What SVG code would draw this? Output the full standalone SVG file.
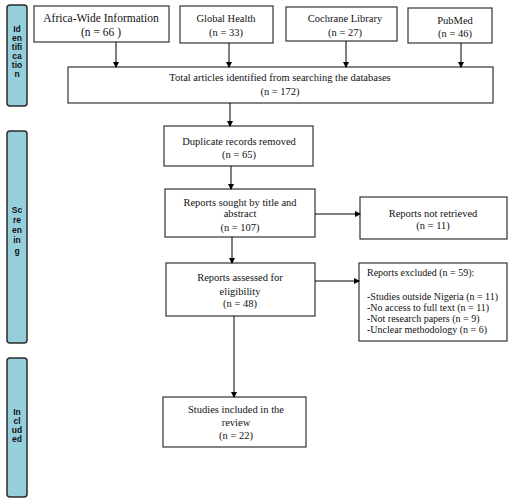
<svg xmlns="http://www.w3.org/2000/svg" width="521" height="504" viewBox="0 0 521 504">
<defs>
<marker id="ah" markerWidth="6" markerHeight="6" refX="5" refY="3" orient="auto" markerUnits="userSpaceOnUse">
<path d="M0,0 L6,3 L0,6 Z" fill="#000"/>
</marker>
<style>
.bar{fill:#96cfdc;stroke:#2b2b2b;stroke-width:1.5}
.box{fill:#fff;stroke:#333;stroke-width:1.2}
.t{font-family:"Liberation Serif","Times New Roman",serif;font-size:10.5px;fill:#111;text-anchor:middle}
.tl{font-family:"Liberation Serif","Times New Roman",serif;font-size:10px;fill:#111}
.bl{font-family:"Liberation Sans",Arial,sans-serif;font-size:8.5px;font-weight:bold;fill:#111;text-anchor:middle}
.c{stroke:#000;stroke-width:1;fill:none;marker-end:url(#ah)}
</style>
</defs>
<rect width="521" height="504" fill="#fff"/>
<g id="phase-identification">
<rect class="bar" x="7" y="5" width="20" height="101" rx="3"/>
<text class="bl" x="17" y="32">Id</text><text class="bl" x="17" y="41">en</text><text class="bl" x="17" y="50">tifi</text><text class="bl" x="17" y="59">ca</text><text class="bl" x="17" y="68">tio</text><text class="bl" x="17" y="77">n</text>
</g>
<g id="phase-screening">
<rect class="bar" x="7" y="131" width="20" height="212" rx="3"/>
<text class="bl" x="17" y="213">Sc</text><text class="bl" x="17" y="223">re</text><text class="bl" x="17" y="233">en</text><text class="bl" x="17" y="243">in</text><text class="bl" x="17" y="254">g</text>
</g>
<g id="phase-included">
<rect class="bar" x="7" y="358" width="20" height="139" rx="3"/>
<text class="bl" x="17" y="415">In</text><text class="bl" x="17" y="424">cl</text><text class="bl" x="17" y="433">ud</text><text class="bl" x="17" y="442">ed</text>
</g>
<g id="africa-wide">
<rect class="box" x="34" y="6" width="135" height="36"/>
<text class="t" x="101" y="22" style="font-size:11.5px">Africa-Wide Information</text>
<text class="t" x="101" y="36" style="font-size:11.5px">(n = 66 )</text>
</g>
<g id="global-health">
<rect class="box" x="180" y="6" width="93" height="37"/>
<text class="t" x="226" y="22">Global Health</text>
<text class="t" x="226" y="36">(n = 33)</text>
</g>
<g id="cochrane">
<rect class="box" x="286" y="7" width="111" height="34"/>
<text class="t" x="345" y="22">Cochrane Library</text>
<text class="t" x="345" y="36">(n = 27)</text>
</g>
<g id="pubmed">
<rect class="box" x="408" y="8" width="84" height="35"/>
<text class="t" x="455" y="24">PubMed</text>
<text class="t" x="455" y="37">(n = 46)</text>
</g>
<g id="total">
<rect class="box" x="68" y="67" width="425" height="36"/>
<text class="t" x="280" y="81">Total articles identified from searching the databases</text>
<text class="t" x="280" y="95">(n = 172)</text>
</g>
<g id="duplicates">
<rect class="box" x="164" y="126" width="149" height="40"/>
<text class="t" x="239" y="145">Duplicate records removed</text>
<text class="t" x="239" y="158">(n = 65)</text>
</g>
<g id="sought">
<rect class="box" x="165" y="189" width="150" height="48"/>
<text class="t" x="240" y="206">Reports sought by title and</text>
<text class="t" x="240" y="217">abstract</text>
<text class="t" x="240" y="231">(n = 107)</text>
</g>
<g id="not-retrieved">
<rect class="box" x="360" y="197" width="147" height="42"/>
<text class="t" x="433" y="217">Reports not retrieved</text>
<text class="t" x="433" y="229">(n = 11)</text>
</g>
<g id="assessed">
<rect class="box" x="166" y="263" width="149" height="53"/>
<text class="t" x="240" y="281">Reports assessed for</text>
<text class="t" x="240" y="295">eligibility</text>
<text class="t" x="240" y="307">(n = 48)</text>
</g>
<g id="excluded">
<rect class="box" x="359" y="263" width="148" height="78"/>
<text class="tl" x="367" y="276">Reports excluded (n = 59):</text>
<text class="tl" x="367" y="300">-Studies outside Nigeria (n = 11)</text>
<text class="tl" x="367" y="311">-No access to full text (n = 11)</text>
<text class="tl" x="367" y="322">-Not research papers (n = 9)</text>
<text class="tl" x="367" y="333">-Unclear methodology (n = 6)</text>
</g>
<g id="included">
<rect class="box" x="163" y="397" width="143" height="50"/>
<text class="t" x="236" y="413">Studies included in the</text>
<text class="t" x="236" y="426">review</text>
<text class="t" x="236" y="439">(n = 22)</text>
</g>
<g id="connectors">
<line class="c" x1="116" y1="42" x2="116" y2="67"/>
<line class="c" x1="229" y1="43" x2="229" y2="67"/>
<line class="c" x1="346" y1="41" x2="346" y2="67"/>
<line class="c" x1="461" y1="43" x2="461" y2="67"/>
<line class="c" x1="230" y1="103" x2="230" y2="126"/>
<line class="c" x1="231" y1="166" x2="231" y2="189"/>
<line class="c" x1="315" y1="214" x2="360" y2="214"/>
<line class="c" x1="232" y1="237" x2="232" y2="263"/>
<line class="c" x1="315" y1="281" x2="359" y2="281"/>
<line class="c" x1="234" y1="316" x2="234" y2="397"/>
</g>
</svg>
